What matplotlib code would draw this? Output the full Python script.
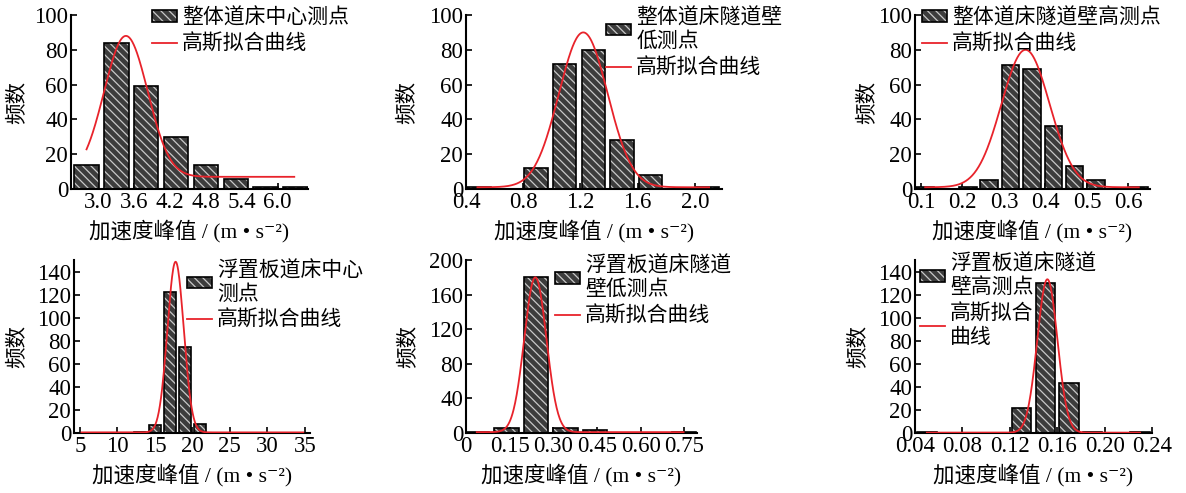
import numpy as np
import matplotlib
matplotlib.use("Agg")
import matplotlib.pyplot as plt
from matplotlib.patches import Patch
from matplotlib.lines import Line2D

plt.rcParams['font.family'] = ['Liberation Serif', 'Noto Sans CJK SC', 'DejaVu Serif']
plt.rcParams['hatch.linewidth'] = 0.9
plt.rcParams['axes.unicode_minus'] = False

# ---- data (bin centres / counts / gaussian fit) ----
p1_centers = [2.8, 3.3, 3.8, 4.3, 4.8, 5.3, 5.8, 6.3]
p1_counts = [14, 84, 59, 30, 14, 6, 1, 1]
p1_fit = [3.46, 0.365, 81, 7]          # mu, sigma, amplitude, offset
p1_fit_range = [2.8, 6.28]

p2_centers = [0.49, 0.69, 0.89, 1.09, 1.29, 1.49, 1.69, 1.89, 2.09]
p2_counts = [1, 0, 12, 72, 80, 28, 8, 0, 1]
p2_fit = [1.22, 0.17, 89, 1]
p2_fit_range = [0.48, 2.10]

p3_centers = [0.110, 0.1615, 0.213, 0.2645, 0.316, 0.3675, 0.419, 0.4705, 0.522, 0.5735, 0.625]
p3_counts = [1, 0, 1, 5, 71, 69, 36, 13, 5, 0, 1]
p3_fit = [0.352, 0.058, 79, 1]
p3_fit_range = [0.11, 0.625]

p4_centers = [13, 15, 17, 19, 21]
p4_counts = [1, 7, 122, 75, 8]
p4_fit = [17.76, 1.09, 148, 0.5]
p4_fit_range = [5.2, 34.8]

p5_centers = [0.038, 0.139, 0.241, 0.342, 0.444, 0.545, 0.647, 0.749]
p5_counts = [1, 6, 180, 6, 3, 0, 0, 1]
p5_fit = [0.238, 0.038, 179, 1]
p5_fit_range = [0.037, 0.747]

p6_centers = [0.05, 0.07, 0.09, 0.11, 0.13, 0.15, 0.17, 0.19, 0.21, 0.23]
p6_counts = [1, 0, 0, 0, 22, 130, 43, 1, 0, 1]
p6_fit = [0.1517, 0.0085, 133, 0.3]
p6_fit_range = [0.05, 0.23]

bar_labels = ['整体道床中心测点', '整体道床隧道壁\n低测点', '整体道床隧道壁高测点',
              '浮置板道床中心\n测点', '浮置板道床隧道\n壁低测点', '浮置板道床隧道\n壁高测点']
fit_labels = ['高斯拟合曲线'] * 5 + ['高斯拟合\n曲线']

p1_xticks = [3.0, 3.6, 4.2, 4.8, 5.4, 6.0]
p2_xticks = [0.4, 0.8, 1.2, 1.6, 2.0]
p3_xticks = [0.1, 0.2, 0.3, 0.4, 0.5, 0.6]
p4_xticks = [5, 10, 15, 20, 25, 30, 35]
p5_xticks = [0, 0.15, 0.30, 0.45, 0.60, 0.75]
p6_xticks = [0.04, 0.08, 0.12, 0.16, 0.20, 0.24]
p1_xticklabels = ['3.0', '3.6', '4.2', '4.8', '5.4', '6.0']
p2_xticklabels = ['0.4', '0.8', '1.2', '1.6', '2.0']
p3_xticklabels = ['0.1', '0.2', '0.3', '0.4', '0.5', '0.6']
p4_xticklabels = ['5', '10', '15', '20', '25', '30', '35']
p5_xticklabels = ['0', '0.15', '0.30', '0.45', '0.60', '0.75']
p6_xticklabels = ['0.04', '0.08', '0.12', '0.16', '0.20', '0.24']

xlabel = '加速度峰值 / (m • s⁻²)'
ylabel = '频数'

# ---- layout (pixels in a 1186x493 figure) ----
W, H = 1186, 493
panels = [
    # centers, counts, fit, fit range, bin width, xlim, ymax, yticks, xticks, xticklabels, axes box, legend anchor, ylabel x
    (p1_centers, p1_counts, p1_fit, p1_fit_range, 0.5, (2.54, 6.51), 100, range(0, 101, 20), p1_xticks, p1_xticklabels, (71, 15, 308, 189), (152, 8), 27),
    (p2_centers, p2_counts, p2_fit, p2_fit_range, 0.2, (0.4, 2.19), 100, range(0, 101, 20), p2_xticks, p2_xticklabels, (466, 15, 722, 189), (606, 8), 417),
    (p3_centers, p3_counts, p3_fit, p3_fit_range, 0.0515, (0.0855, 0.652), 100, range(0, 101, 20), p3_xticks, p3_xticklabels, (915, 15, 1150, 189), (922, 8), 877),
    (p4_centers, p4_counts, p4_fit, p4_fit_range, 2.0, (4.2, 35.7), 150, range(0, 141, 20), p4_xticks, p4_xticklabels, (74, 260, 310, 433), (187, 261), 27),
    (p5_centers, p5_counts, p5_fit, p5_fit_range, 0.1017, (0.0, 0.793), 200, range(0, 201, 40), p5_xticks, p5_xticklabels, (466, 260, 697, 433), (555, 256), 418),
    (p6_centers, p6_counts, p6_fit, p6_fit_range, 0.02, (0.04, 0.24), 150, range(0, 141, 20), p6_xticks, p6_xticklabels, (915, 260, 1152, 433), (920, 254), 868),
]

face = '#3c3c3c'
hatch_col = '#c8c8c8'
red = '#e8232b'
hatch = '\\\\\\\\'

fig = plt.figure(figsize=(W / 100, H / 100), dpi=100)

for i, (centers, counts, fit, frange, bw, xlim, ymax, yticks, xticks, xtl, box, leg, ylx) in enumerate(panels):
    l, t, r, b = box
    ax = fig.add_axes([l / W, 1 - b / H, (r - l) / W, (b - t) / H])
    width = bw * 0.82
    ax.bar(centers, counts, width=width, color=face, edgecolor=hatch_col, hatch=hatch, linewidth=0, zorder=2)
    ax.bar(centers, counts, width=width, fill=False, edgecolor='black', linewidth=1.2, zorder=3)

    mu, sig, amp, off = fit
    xs = np.linspace(frange[0], frange[1], 400)
    ax.plot(xs, off + amp * np.exp(-(xs - mu) ** 2 / (2 * sig ** 2)), color=red, lw=1.3, zorder=4)

    ax.set_xlim(*xlim)
    ax.set_ylim(0, ymax)
    ax.set_xticks(xticks)
    ax.set_xticklabels(xtl)
    ax.set_yticks(list(yticks))
    ax.tick_params(direction='in', length=4, width=1.2, labelsize=16.5, pad=2)
    for s in ['top', 'right']:
        ax.spines[s].set_visible(False)
    for s in ['left', 'bottom']:
        ax.spines[s].set_linewidth(1.5)

    ax.set_xlabel(xlabel, fontsize=15.5, labelpad=5)
    ax.set_ylabel(ylabel, fontsize=15.5)
    ax.yaxis.set_label_coords((ylx - l) / (r - l), 0.5)

    hpatch = Patch(facecolor=face, edgecolor=hatch_col, hatch=hatch, linewidth=0)
    epatch = Patch(fill=False, edgecolor='black', linewidth=1.2)
    line = Line2D([0], [0], color=red, lw=1.3)
    lg = ax.legend([(hpatch, epatch), line], [bar_labels[i], fit_labels[i]],
                   loc='upper left', bbox_to_anchor=(leg[0] / W, 1 - leg[1] / H),
                   bbox_transform=fig.transFigure, frameon=False, fontsize=15,
                   borderpad=0, borderaxespad=0, handlelength=1.2, handleheight=0.5,
                   handletextpad=0.25, labelspacing=0.3)
    for txt in lg.get_texts():
        txt.set_linespacing(1.28)

fig.savefig('out.png', dpi=100, facecolor='white')
